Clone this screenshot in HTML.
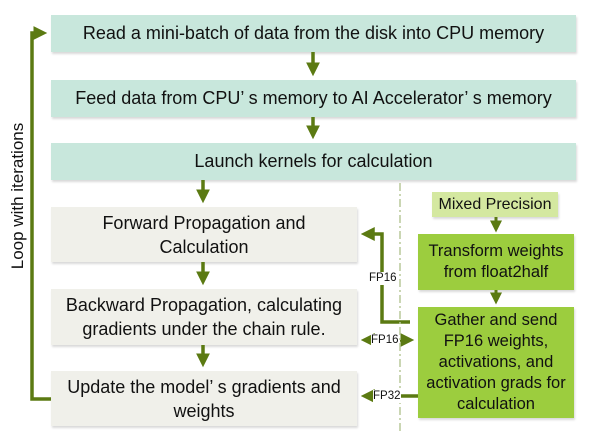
<!DOCTYPE html><html><head><style>
body{margin:0;width:591px;height:440px;background:#fff;position:relative;font-family:"Liberation Sans",sans-serif;overflow:hidden}
.b{position:absolute;display:flex;align-items:center;justify-content:center;text-align:center;color:#111;box-shadow:1px 2px 2px rgba(0,0,0,.15)}
.t{background:#c8e7dc;font-size:18px}
.g{background:#f0f0ea;font-size:18px;line-height:24px}
.gr{background:#9ccd3e;font-size:16.5px;line-height:21px}
.l{position:absolute;background:#fff;font-size:11.5px;color:#111;line-height:13px}
</style></head><body>
<div class="b t" style="left:51px;top:15px;width:525px;height:37px">Read a mini-batch of data from the disk into CPU memory</div>
<div class="b t" style="left:51px;top:80px;width:525px;height:37px">Feed data from CPU’ s memory to AI Accelerator’ s memory</div>
<div class="b t" style="left:51px;top:143px;width:525px;height:37px">Launch kernels for calculation</div>
<div class="b g" style="left:51px;top:207px;width:306px;height:55px">Forward Propagation and<br>Calculation</div>
<div class="b g" style="left:51px;top:289px;width:306px;height:56px">Backward Propagation, calculating<br>gradients under the chain rule.</div>
<div class="b g" style="left:51px;top:371px;width:306px;height:55px">Update the model’ s gradients and<br>weights</div>
<div class="b" style="left:432px;top:192px;width:126px;height:25px;background:#d4e8a0;font-size:16px">Mixed Precision</div>
<div class="b gr" style="left:418px;top:234px;width:156px;height:56px">Transform weights<br>from float2half</div>
<div class="b gr" style="left:418px;top:307px;width:156px;height:111px">Gather and send<br>FP16 weights,<br>activations, and<br>activation grads for<br>calculation</div>
<div style="position:absolute;left:-82px;top:186px;width:200px;transform:rotate(-90deg);font-size:17px;text-align:center;color:#111">Loop with iterations</div>
<svg width="591" height="440" style="position:absolute;left:0;top:0" fill="none">
<defs><marker id="a" markerWidth="4" markerHeight="4" refX="2.5" refY="2" orient="auto" markerUnits="strokeWidth"><path d="M0,0L4,2L0,4z" fill="#5b7a12"/></marker></defs>
<g stroke="#5b7a12" stroke-width="3.5">
<path d="M51,399H32V33H42" marker-end="url(#a)"/>
<path d="M313,52V71" marker-end="url(#a)"/>
<path d="M313,117V134" marker-end="url(#a)"/>
<path d="M203,180V198" marker-end="url(#a)"/>
<path d="M203,262V280" marker-end="url(#a)"/>
<path d="M203,345V362" marker-end="url(#a)"/>
<path d="M496,217V228" stroke-width="3" marker-end="url(#a)"/>
<path d="M496,290V300" stroke-width="3" marker-end="url(#a)"/>
<path d="M410,322H382V234H366" marker-end="url(#a)"/>
<path d="M380,340H366" marker-end="url(#a)"/>
<path d="M400,340H409" marker-end="url(#a)"/>
<path d="M418,396H366" marker-end="url(#a)"/>
</g>
<path d="M400,183V432" stroke="#b9c99a" stroke-width="1.5" stroke-dasharray="8,3,2,3"/>
</svg>
<div class="l" style="left:369px;top:272px">FP16</div>
<div class="l" style="left:371px;top:334px">FP16</div>
<div class="l" style="left:373px;top:390px">FP32</div>
</body></html>
